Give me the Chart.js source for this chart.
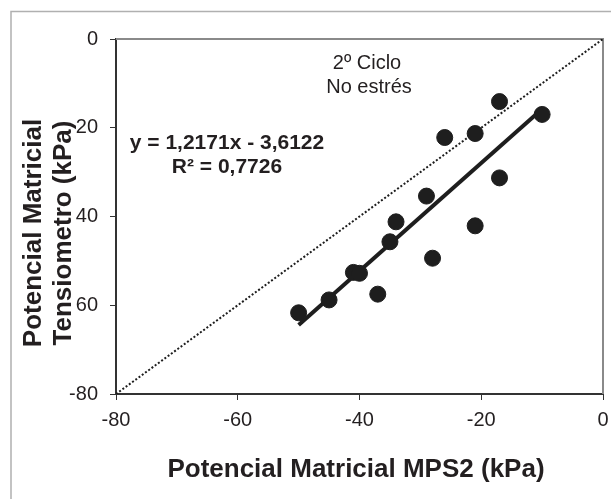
<!DOCTYPE html>
<html>
<head>
<meta charset="utf-8">
<script src="https://cdn.jsdelivr.net/npm/chart.js@4/dist/chart.umd.min.js"></script>
<style>
  html, body { margin: 0; padding: 0; background: #fff; }
  #wrap { width: 611px; height: 499px; position: relative; }
</style>
</head>
<body>
<div id="wrap"><canvas id="chart" width="611" height="499"></canvas></div>
<script>
// MPS2 readings (x) vs tensiometer readings (y), kPa
const mpsX  = [-17, -10, -26, -21, -17, -29, -34, -35, -21, -28, -41, -40, -45, -37, -50];
const tensY = [-14.1, -17.0, -22.2, -21.3, -31.3, -35.4, -41.2, -45.7, -42.1, -49.4, -52.6, -52.8, -58.8, -57.5, -61.7];

// linear trend shown on the chart
const slope = 1.2171;
const intercept = -3.6122;
const trendX = [-50, -10];

// 1:1 reference line
const refLine = [-80, 0];

const xTicks = [-80, -60, -40, -20, 0];
const yTicks = [-80, -60, -40, -20, 0];

const eqLines = ['y = 1,2171x - 3,6122', 'R\u00B2 = 0,7726'];
const noteLines = ['2\u00BA Ciclo', 'No estr\u00E9s'];
const xTitle = 'Potencial Matricial MPS2 (kPa)';
const yTitle = ['Potencial Matricial', 'Tensiometro (kPa)'];

const FONT = '"Liberation Sans", Arial, sans-serif';
const INK = '#231f20';

const decor = {
  id: 'decor',
  beforeDraw(chart) {
    const c = chart.ctx;
    c.save();
    c.fillStyle = '#fff';
    c.fillRect(0, 0, chart.width, chart.height);
    // outer frame (only top/left visible)
    c.strokeStyle = '#b0b0b0';
    c.lineWidth = 1.5;
    c.beginPath();
    c.moveTo(11, chart.height);
    c.lineTo(11, 11.5);
    c.lineTo(chart.width, 11.5);
    c.stroke();
    c.restore();
  },
  beforeDatasetsDraw(chart) {
    const a = chart.chartArea;
    const c = chart.ctx;
    c.save();
    c.strokeStyle = '#8a8a8a';
    c.lineWidth = 2;
    c.beginPath();
    c.moveTo(a.left, a.top);
    c.lineTo(a.right, a.top);
    c.lineTo(a.right, a.bottom);
    c.stroke();
    c.restore();
  },
  afterDraw(chart) {
    const c = chart.ctx;
    c.save();
    c.fillStyle = INK;
    c.textAlign = 'center';
    c.textBaseline = 'middle';

    c.font = '20px ' + FONT;
    c.fillText(noteLines[0], 367, 63);
    c.fillText(noteLines[1], 369, 87);

    c.font = 'bold 21px ' + FONT;
    c.fillText(eqLines[0], 227, 143);
    c.fillText(eqLines[1], 227, 167);

    c.textBaseline = 'alphabetic';
    c.font = 'bold 26px ' + FONT;
    c.fillText(xTitle, 356, 477);

    // y title, rotated, with a white box that hides part of the tick labels
    c.translate(0, 233);
    c.rotate(-Math.PI / 2);
    c.fillStyle = '#fff';
    c.fillRect(-117, 20, 234, 56);
    c.fillStyle = INK;
    c.fillText(yTitle[0], 0, 41);
    c.fillText(yTitle[1], 0, 71);
    c.restore();
  }
};

new Chart(document.getElementById('chart'), {
  type: 'scatter',
  data: {
    datasets: [{
      label: 'datos',
      data: mpsX.map((x, i) => ({ x: x, y: tensY[i] })),
      backgroundColor: '#1e1e1e',
      borderColor: '#1e1e1e',
      pointRadius: 8,
      pointHoverRadius: 8,
      order: 2
    }, {
      label: 'tendencia',
      data: trendX.map(x => ({ x: x, y: slope * x + intercept })),
      showLine: true,
      borderColor: '#1e1e1e',
      borderWidth: 4,
      pointRadius: 0,
      order: 1
    }, {
      label: '1:1',
      data: refLine.map(v => ({ x: v, y: v })),
      showLine: true,
      borderColor: '#1e1e1e',
      borderWidth: 2,
      borderDash: [2, 2],
      pointRadius: 0,
      order: 3
    }]
  },
  options: {
    responsive: false,
    animation: false,
    layout: { autoPadding: false, padding: { left: 0, top: 39, right: 8, bottom: 0 } },
    plugins: {
      legend: { display: false },
      tooltip: { enabled: false }
    },
    scales: {
      x: {
        type: 'linear',
        min: -80,
        max: 0,
        afterFit(scale) {
          scale.height = 105;
          scale.paddingLeft = 0;
          scale.paddingRight = 0;
        },
        afterBuildTicks(scale) { scale.ticks = xTicks.map(v => ({ value: v })); },
        grid: { display: true, drawOnChartArea: false, drawTicks: true, tickLength: 6, color: '#333', lineWidth: 1 },
        border: { display: true, color: '#333', width: 2 },
        ticks: { color: INK, font: { family: FONT, size: 20 }, padding: 8, maxRotation: 0 }
      },
      y: {
        type: 'linear',
        min: -80,
        max: 0,
        afterFit(scale) {
          scale.width = 116;
          scale.paddingTop = 0;
          scale.paddingBottom = 0;
        },
        afterBuildTicks(scale) { scale.ticks = yTicks.map(v => ({ value: v })); },
        grid: { display: true, drawOnChartArea: false, drawTicks: true, tickLength: 6, color: '#333', lineWidth: 1 },
        border: { display: true, color: '#333', width: 2 },
        ticks: { color: INK, font: { family: FONT, size: 20 }, padding: 12 }
      }
    }
  },
  plugins: [decor]
});
</script>
</body>
</html>
